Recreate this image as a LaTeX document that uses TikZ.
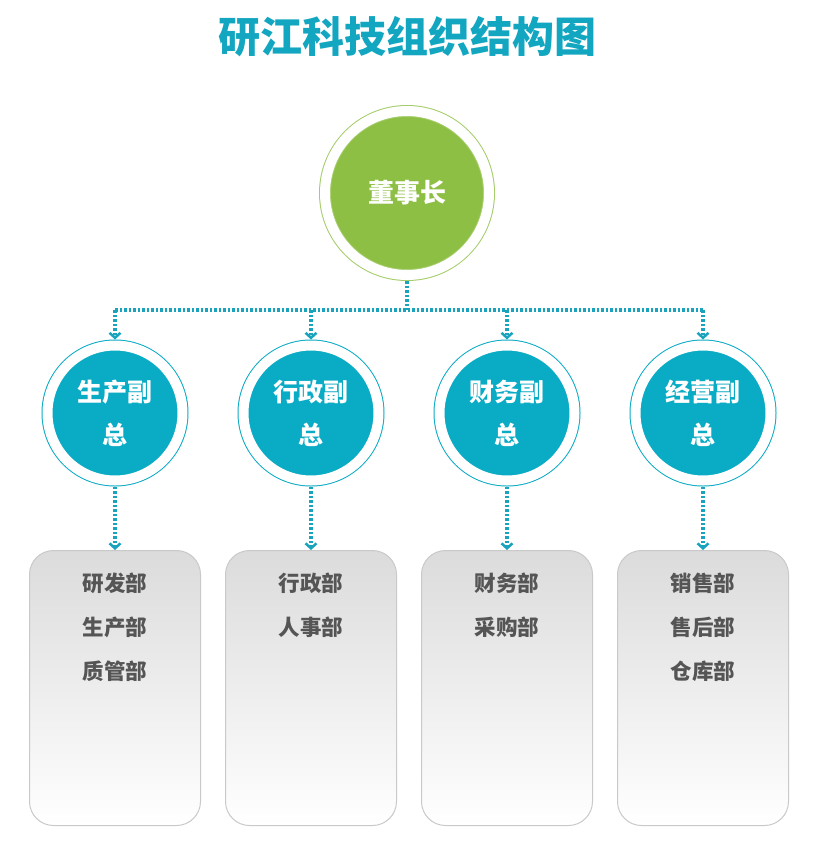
\documentclass[tikz,border=0pt]{standalone}
\usepackage{fontspec}
\setmainfont{Noto Sans CJK SC}
\usepackage{xcolor}
\usepackage{tikz}
\usetikzlibrary{arrows.meta,positioning}

\definecolor{titlecyan}{HTML}{12A6C0}
\definecolor{vpcyan}{HTML}{0AABC5}
\definecolor{bossgreen}{HTML}{8DBF44}
\definecolor{linkcyan}{HTML}{1AA3BC}
\definecolor{boxgray}{HTML}{C9C9C9}
\definecolor{textgray}{HTML}{555555}

\tikzset{
    boss/.style={circle, fill=bossgreen, draw=bossgreen!80, line width=1pt,
        double=white, double distance=10pt, minimum size=164pt, outer sep=6pt,
        text=white, font=\fontsize{26}{30}\selectfont\bfseries},
    vp/.style={circle, fill=vpcyan, draw=vpcyan, line width=1pt,
        double=white, double distance=10pt, minimum size=135pt, outer sep=6pt,
        text=white, align=center, font=\fontsize{25}{43}\selectfont\bfseries},
    deptbox/.style={draw=boxgray, line width=1pt, rounded corners=24pt,
        top color=black!14, bottom color=white, minimum width=171pt, minimum height=275pt},
    depttext/.style={inner sep=0pt, align=center, text=textgray,
        font=\fontsize{21.5}{44}\selectfont\bfseries},
    link/.style={linkcyan, line width=3.5pt, dash pattern=on 2.5pt off 2pt},
    tip/.style={-{Straight Barb[length=5pt, width=11pt, line width=2.5pt]}}
}

\begin{document}
\begin{tikzpicture}[x=1pt, y=-1pt]
    \useasboundingbox (0,0) rectangle (813,841);

    \node[text=titlecyan, font=\fontsize{42}{48}\selectfont\bfseries] at (407, 37) (title) {研江科技组织结构图};

    \node[boss] at (407, 193) (chair) {董事长};

    \node[vp] at (115, 413) (vpA) {生产副\\总};
    \node[vp] at (311, 413) (vpB) {行政副\\总};
    \node[vp] at (507, 413) (vpC) {财务副\\总};
    \node[vp] at (703, 413) (vpD) {经营副\\总};

    \node[deptbox] at (115, 688) (boxA) {};
    \node[deptbox] at (311, 688) (boxB) {};
    \node[deptbox] at (507, 688) (boxC) {};
    \node[deptbox] at (703, 688) (boxD) {};

    \node[depttext, below=23pt of boxA.north, anchor=north] (listA) {研发部\\生产部\\质管部};
    \node[depttext, below=23pt of boxB.north, anchor=north] (listB) {行政部\\人事部};
    \node[depttext, below=23pt of boxC.north, anchor=north] (listC) {财务部\\采购部};
    \node[depttext, below=23pt of boxD.north, anchor=north] (listD) {销售部\\售后部\\仓库部};

    \coordinate (split) at (407, 310);
    \coordinate (left) at (115, 310);
    \coordinate (right) at (703, 310);

    \draw[link] (chair.south) -- (split);
    \draw[link] (left) -- (right);
    \draw[link, tip] (left) -- (vpA.north);
    \draw[link, tip] (vpB.north |- split) -- (vpB.north);
    \draw[link, tip] (vpC.north |- split) -- (vpC.north);
    \draw[link, tip] (right) -- (vpD.north);

    \draw[link, tip] (vpA.south) -- (boxA.north);
    \draw[link, tip] (vpB.south) -- (boxB.north);
    \draw[link, tip] (vpC.south) -- (boxC.north);
    \draw[link, tip] (vpD.south) -- (boxD.north);
\end{tikzpicture}
\end{document}
